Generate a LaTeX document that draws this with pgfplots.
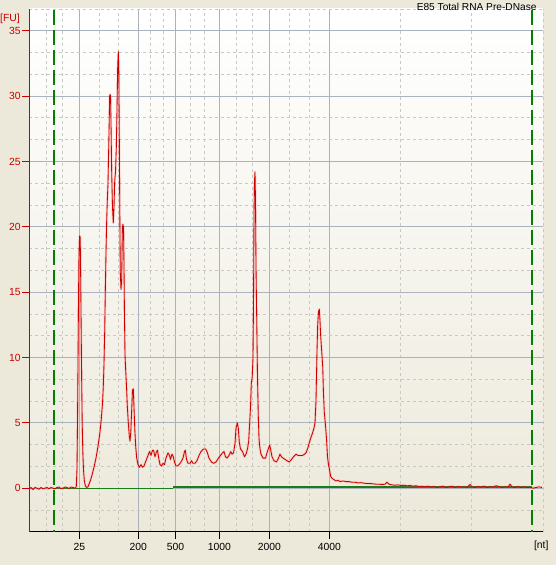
\documentclass[border=0pt]{standalone}
\usepackage{pgfplots}
\pgfplotsset{compat=1.18}
\usepackage{pgfplotstable}
\usepackage{fontspec}
\setmainfont{Liberation Sans}
\definecolor{bgc}{RGB}{236,233,218}
\definecolor{trace}{RGB}{208,0,0}
\definecolor{axred}{RGB}{200,0,0}
\definecolor{majgrid}{RGB}{170,178,190}
\definecolor{mingrid}{RGB}{200,200,200}
\definecolor{basegreen}{RGB}{25,125,25}
\definecolor{dashgreen}{RGB}{0,130,0}
\pgfplotstableread{
x y
29.5 -0.05
31 0.05
33 -0.1
35 0.05
37 0
39 -0.08
41 0.05
43 -0.05
45 0
47 0.05
49 -0.05
51 0.05
53 0
55 -0.05
57 0.05
59 0.08
61 -0.03
63 0
65 0.08
67 0.05
69 -0.03
71 0.08
73 0.05
75 0
76.3 0.1
77 1.5
77.5 5
78 9.5
78.5 14.5
79 18
79.6 19.3
80.2 19.2
80.7 16
81.2 12
81.7 8
82.2 5
82.8 2.8
83.5 1.4
84.3 0.6
85.3 0.2
86.5 0.05
88 0.1
89 0.3
90.5 0.6
92 1.0
94 1.6
96 2.3
98 3.2
100 4.3
101.3 5.3
102.5 6.5
103.3 7.8
104 9.5
104.7 12
105.3 15
106 18
106.7 20.5
107.3 22
108 23.3
108.7 26
109.2 28
109.7 30.1
110.5 30.1
111 28
111.7 24.1
112.5 21.5
113.3 20.3
114 21.5
114.7 23.5
115.5 24.2
116.3 26
117 29
117.7 32.3
118.3 33.4
118.8 32.2
119.3 27
119.8 21
120.3 16.5
121 15.2
121.7 16
122.3 19.5
122.8 20.2
123.5 20
124 17
124.5 13
125 10.2
125.7 9
126.5 7.8
127.3 6.3
128.3 5.0
129.3 4.0
130 3.6
130.8 4.3
131.7 6
132.5 7.5
133.3 7.6
134 6.2
134.8 4.5
135.7 3.2
136.7 2.3
138 1.8
139.5 1.6
141 1.8
142.5 1.6
144 1.7
146 2.1
148 2.5
149.5 2.8
151 2.5
152.5 2.9
153.5 2.9
155 2.4
156.5 2.8
157.5 2.9
158.7 2.3
160 1.8
161.5 1.7
163 1.9
164.5 1.8
166 2.3
168 2.7
169.5 2.5
170.5 2.2
172 2.6
173.3 2.4
174.5 2.0
176 1.7
177.5 1.7
179 1.8
181 2.0
183 2.3
184.5 2.8
185.3 2.9
186.5 2.2
188 1.9
190 1.9
191.5 2.1
193 1.9
195 1.9
197 2.1
199 2.5
201 2.8
203.5 3.0
205.5 3.0
207 2.8
209 2.3
211.5 2.0
213.5 1.9
216 2.0
218.5 2.3
220.5 2.5
222.5 2.7
224 2.8
225.5 2.4
227 2.3
229 2.5
230.7 2.8
232 2.6
233.5 2.7
235 3.4
236 4.6
237.3 5.0
238.3 4.6
239.3 3.5
240.5 3.0
242.5 2.8
244.5 2.4
246 2.6
247.5 3.0
248.7 3.6
249.7 5.0
250.5 6.2
251.3 8.0
252.2 8.5
253 10
253.5 14
254 21
254.5 23.5
255 24.2
255.5 22
256 17
256.7 13
257.5 8.5
258.3 5.5
259 3.8
260 3.0
261 2.6
263 2.3
265.5 2.3
267 2.7
268.3 3.0
269.7 3.3
270.8 2.9
272 2.4
274 2.1
276.5 2.0
278.5 2.3
280 2.6
281.5 2.4
283 2.3
285 2.2
287 2.1
289.3 2.0
291.5 2.2
293.5 2.4
296 2.6
298 2.5
300 2.5
302.5 2.5
304.5 2.6
306 2.7
307.5 3.0
309 3.4
311 3.9
312.5 4.2
314 4.6
315 5.0
316 6.7
317 10.5
317.7 12.5
318.5 13.5
319.3 13.7
320 12.8
320.7 11.6
321.7 10.5
322.7 9.3
323.5 7.2
324.3 5.8
325.5 4.8
326.5 3.8
327.5 2.4
328.5 1.8
329.5 1.4
330.7 0.9
332 0.75
334 0.65
336 0.55
338 0.6
340 0.5
343 0.55
346 0.5
349 0.5
352 0.45
355 0.45
358 0.4
361 0.42
364 0.38
367 0.35
370 0.35
373 0.33
376 0.3
379 0.3
382 0.28
385 0.3
387 0.45
389 0.3
392 0.25
395 0.22
398 0.25
401 0.2
404 0.22
407 0.18
410 0.2
413 0.15
416 0.18
419 0.12
422 0.15
425 0.1
428 0.15
431 0.08
434 0.12
437 0.05
440 0.1
443 0.15
446 0.05
449 0.1
452 0.15
455 0.05
458 0.12
461 0.08
464 0.1
467 0.05
470 0.28
472 0.1
475 0.05
478 0.12
481 0.08
484 0.15
487 0.05
490 0.1
493 0.08
496 0.18
499 0.12
502 0.05
505 0.1
508 0.08
510 0.3
512 0.1
515 0.05
518 0.12
521 0.05
524 0.1
527 0.05
530 0.08
533 0.0
536 0.05
539 0.1
542 0.05
}\tracedata
\pgfplotstableread{
x y
53.5 36.6
53.5 -3.3333
}\leftmarker
\pgfplotstableread{
x y
531.5 36.6
531.5 -3.3333
}\rightmarker
\begin{document}
\begin{tikzpicture}
\fill[bgc] (-29.3bp,-33.3bp) rectangle (526.7bp,531.7bp);
\useasboundingbox (-29.3bp,-33.3bp) rectangle (526.7bp,531.7bp);
\begin{axis}[
  scale only axis,
  width=513.7bp, height=522.7bp,
  xmin=29.3, xmax=543,
  ymin=-3.3333, ymax=36.6667,
  axis background/.style={top color=white, bottom color=bgc},
  axis lines*=left,
  x axis line style={black, line width=0.8bp, -},
  y axis line style={axred, line width=0.8bp, -},
  tick align=outside,
  major tick length=7bp,
  minor tick length=0pt,
  xtick={79.3,138.3,175.5,219.3,269.3,329.3},
  xticklabels={25,200,500,1000,2000,4000},
  minor xtick={45.9,62.6,99.0,118.7,150.6,162.9,190.1,204.7,236.0,252.6,289.3,309.3,400.7,471.7,543},
  ytick={0,5,10,15,20,25,30,35},
  yticklabels={0,5,10,15,20,25,30,35},
  minor ytick={-3.3333,-1.6667,1.6667,3.3333,6.6667,8.3333,11.6667,13.3333,16.6667,18.3333,21.6667,23.3333,26.6667,28.3333,31.6667,33.3333,36.6667},
  grid=both,
  major grid style={majgrid, line width=0.8bp},
  minor grid style={mingrid, line width=0.8bp, dash pattern=on 3bp off 3bp},
  xtick style={black, line width=0.8bp},
  ytick style={axred, line width=0.8bp},
  tick label style={font=\fontsize{10.4}{12}\selectfont},
  xticklabel style={black, inner sep=1bp, yshift=-3bp},
  yticklabel style={axred, inner sep=1.5bp},
  /pgf/number format/assume math mode=true,
  clip=true,
]
\addplot[basegreen, line width=1bp] coordinates {(53.3,0) (173,0)};
\addplot[basegreen, line width=1.7bp] coordinates {(173,0.08) (531.7,0.08)};
\addplot[color=dashgreen, line width=2bp, dash pattern=on 15bp off 5bp] table[x=x,y=y] {\leftmarker};
\addplot[color=dashgreen, line width=2bp, dash pattern=on 15bp off 5bp] table[x=x,y=y] {\rightmarker};
\addplot[red!60, opacity=0.22, line width=2.4bp, line join=round] table[x=x,y=y] {\tracedata};
\addplot[trace, line width=0.85bp, line join=round] table[x=x,y=y] {\tracedata};
\end{axis}
\node[axred, anchor=west, inner sep=0pt, font=\fontsize{10.4}{12}\selectfont] at (-29.3bp,512.7bp) {[FU]};
\node[black, anchor=east, inner sep=0pt, font=\fontsize{10.2}{12}\selectfont] at (507.4bp,525bp) {E85 Total RNA Pre-DNase};
\node[black, anchor=center, inner sep=0pt, font=\fontsize{10.4}{12}\selectfont] at (512bp,-14.3bp) {[nt]};
\end{tikzpicture}
\end{document}
